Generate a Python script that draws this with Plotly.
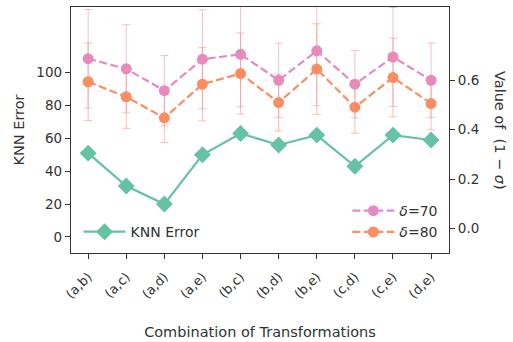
import plotly.graph_objects as go

categories = ["(a,b)", "(a,c)", "(a,d)", "(a,e)", "(b,c)", "(b,d)", "(b,e)", "(c,d)", "(c,e)", "(d,e)"]
knn_error = [51, 31, 20, 50, 63, 56, 62, 43, 62, 59]
delta70 = [0.687, 0.646, 0.558, 0.685, 0.705, 0.600, 0.719, 0.584, 0.694, 0.600]
delta70_err = [0.199, 0.178, 0.142, 0.200, 0.212, 0.150, 0.222, 0.136, 0.200, 0.150]
delta80 = [0.594, 0.533, 0.448, 0.584, 0.627, 0.510, 0.645, 0.491, 0.611, 0.506]
delta80_err = [0.157, 0.127, 0.100, 0.148, 0.164, 0.115, 0.183, 0.105, 0.159, 0.106]

TEAL = "#66c2a5"
ORANGE = "#fc8d62"
PINK = "#e78ac3"
AX = "#333333"
FONT = "DejaVu Sans"
DASH = "8px,3.5px"

fig = go.Figure()

fig.add_trace(go.Scatter(
    x=categories, y=delta70, name="<i>δ</i>=70", yaxis="y2", legend="legend2",
    mode="lines+markers", line=dict(color=PINK, width=2.2, dash=DASH),
    marker=dict(symbol="circle", size=11, color=PINK),
    error_y=dict(type="data", array=delta70_err, color="rgba(231,138,195,0.55)", thickness=1, width=4),
))
fig.add_trace(go.Scatter(
    x=categories, y=delta80, name="<i>δ</i>=80", yaxis="y2", legend="legend2",
    mode="lines+markers", line=dict(color=ORANGE, width=2.2, dash=DASH),
    marker=dict(symbol="circle", size=11, color=ORANGE),
    error_y=dict(type="data", array=delta80_err, color="rgba(252,141,98,0.55)", thickness=1, width=4),
))
fig.add_trace(go.Scatter(
    x=categories, y=knn_error, name="KNN Error", yaxis="y", legend="legend",
    mode="lines+markers", line=dict(color=TEAL, width=2.2),
    marker=dict(symbol="diamond", size=13, color=TEAL),
))

axis_common = dict(
    showline=True, linecolor=AX, linewidth=1.3, ticks="outside", ticklen=5,
    tickcolor=AX, tickwidth=1.2, showgrid=False, zeroline=False, automargin=False,
    tickfont=dict(family=FONT, size=13.5, color=AX),
)

fig.update_layout(
    width=513, height=342,
    margin=dict(l=71, r=64, t=7, b=89),
    plot_bgcolor="white", paper_bgcolor="white",
    font=dict(family=FONT, color=AX),
    xaxis=dict(**{**axis_common, "tickfont": dict(family=FONT, size=13, color=AX)},
               range=[-0.45, 9.47], tickangle=-45, mirror=True, ticklabelstandoff=5,
               title=dict(text="Combination of Transformations", font=dict(size=14.5, color=AX), standoff=26)),
    yaxis=dict(**axis_common, range=[-9.8, 140], tickvals=[0, 20, 40, 60, 80, 100],
               title=dict(text="KNN Error", font=dict(size=14.5, color=AX), standoff=8)),
    yaxis2=dict(**axis_common, overlaying="y", side="right", range=[-0.098, 0.896],
                tickvals=[0.0, 0.2, 0.4, 0.6], tickformat=".1f"),
    legend=dict(x=0.02, y=0.02, xanchor="left", yanchor="bottom", bgcolor="rgba(0,0,0,0)",
                font=dict(family=FONT, size=14, color=AX), itemwidth=42),
    legend2=dict(x=0.985, y=0.02, xanchor="right", yanchor="bottom", bgcolor="rgba(0,0,0,0)",
                 font=dict(family=FONT, size=14, color=AX), traceorder="normal",
                 tracegroupgap=0, itemwidth=42),
    showlegend=True,
)

fig.add_annotation(
    text="Value of  (1 − <i>σ</i>)", textangle=90, xref="paper", yref="paper",
    x=1.135, y=0.5, xanchor="center", yanchor="middle", showarrow=False,
    font=dict(family=FONT, size=14.5, color=AX),
)

fig.write_html("out.html", config={"displayModeBar": False},
               post_script="document.body.style.margin='0';")
